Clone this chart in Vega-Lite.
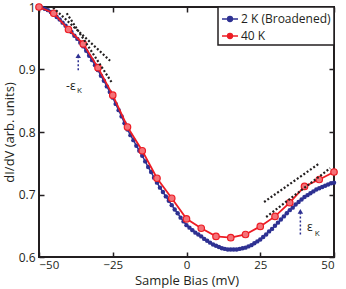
{
  "$schema": "https://vega.github.io/schema/vega-lite/v6.json",
  "width": 295,
  "height": 250,
  "autosize": "none",
  "padding": {"left": 39, "top": 7, "right": 12, "bottom": 32},
  "background": "white",
  "config": {
    "view": {"stroke": "#231f20", "strokeWidth": 2},
    "font": "Open Sans",
    "axis": {"domain": false, "grid": false, "tickColor": "#231f20", "tickWidth": 1.5, "labelColor": "#231f20", "titleColor": "#231f20", "labelFont": "Open Sans", "titleFont": "Open Sans", "labelFontSize": 12, "titleFontSize": 13, "titleFontWeight": "normal"}
  },
  "datasets": {
    "blue": [
      {"bias": -50, "didv": 1.000, "series": "2 K (Broadened)"},
      {"bias": -49, "didv": 0.999, "series": "2 K (Broadened)"},
      {"bias": -48, "didv": 0.997, "series": "2 K (Broadened)"},
      {"bias": -47, "didv": 0.995, "series": "2 K (Broadened)"},
      {"bias": -46, "didv": 0.992, "series": "2 K (Broadened)"},
      {"bias": -45, "didv": 0.988, "series": "2 K (Broadened)"},
      {"bias": -44, "didv": 0.984, "series": "2 K (Broadened)"},
      {"bias": -43, "didv": 0.980, "series": "2 K (Broadened)"},
      {"bias": -42, "didv": 0.975, "series": "2 K (Broadened)"},
      {"bias": -41, "didv": 0.970, "series": "2 K (Broadened)"},
      {"bias": -40, "didv": 0.965, "series": "2 K (Broadened)"},
      {"bias": -39, "didv": 0.960, "series": "2 K (Broadened)"},
      {"bias": -38, "didv": 0.954, "series": "2 K (Broadened)"},
      {"bias": -37, "didv": 0.949, "series": "2 K (Broadened)"},
      {"bias": -36, "didv": 0.943, "series": "2 K (Broadened)"},
      {"bias": -35, "didv": 0.937, "series": "2 K (Broadened)"},
      {"bias": -34, "didv": 0.930, "series": "2 K (Broadened)"},
      {"bias": -33, "didv": 0.922, "series": "2 K (Broadened)"},
      {"bias": -32, "didv": 0.915, "series": "2 K (Broadened)"},
      {"bias": -31, "didv": 0.907, "series": "2 K (Broadened)"},
      {"bias": -30, "didv": 0.899, "series": "2 K (Broadened)"},
      {"bias": -29, "didv": 0.890, "series": "2 K (Broadened)"},
      {"bias": -28, "didv": 0.882, "series": "2 K (Broadened)"},
      {"bias": -27, "didv": 0.873, "series": "2 K (Broadened)"},
      {"bias": -26, "didv": 0.864, "series": "2 K (Broadened)"},
      {"bias": -25, "didv": 0.855, "series": "2 K (Broadened)"},
      {"bias": -24, "didv": 0.845, "series": "2 K (Broadened)"},
      {"bias": -23, "didv": 0.835, "series": "2 K (Broadened)"},
      {"bias": -22, "didv": 0.825, "series": "2 K (Broadened)"},
      {"bias": -21, "didv": 0.814, "series": "2 K (Broadened)"},
      {"bias": -20, "didv": 0.804, "series": "2 K (Broadened)"},
      {"bias": -19, "didv": 0.795, "series": "2 K (Broadened)"},
      {"bias": -18, "didv": 0.787, "series": "2 K (Broadened)"},
      {"bias": -17, "didv": 0.778, "series": "2 K (Broadened)"},
      {"bias": -16, "didv": 0.770, "series": "2 K (Broadened)"},
      {"bias": -15, "didv": 0.762, "series": "2 K (Broadened)"},
      {"bias": -14, "didv": 0.753, "series": "2 K (Broadened)"},
      {"bias": -13, "didv": 0.744, "series": "2 K (Broadened)"},
      {"bias": -12, "didv": 0.736, "series": "2 K (Broadened)"},
      {"bias": -11, "didv": 0.727, "series": "2 K (Broadened)"},
      {"bias": -10, "didv": 0.719, "series": "2 K (Broadened)"},
      {"bias": -9, "didv": 0.711, "series": "2 K (Broadened)"},
      {"bias": -8, "didv": 0.704, "series": "2 K (Broadened)"},
      {"bias": -7, "didv": 0.697, "series": "2 K (Broadened)"},
      {"bias": -6, "didv": 0.690, "series": "2 K (Broadened)"},
      {"bias": -5, "didv": 0.683, "series": "2 K (Broadened)"},
      {"bias": -4, "didv": 0.676, "series": "2 K (Broadened)"},
      {"bias": -3, "didv": 0.670, "series": "2 K (Broadened)"},
      {"bias": -2, "didv": 0.663, "series": "2 K (Broadened)"},
      {"bias": -1, "didv": 0.657, "series": "2 K (Broadened)"},
      {"bias": 0, "didv": 0.651, "series": "2 K (Broadened)"},
      {"bias": 1, "didv": 0.647, "series": "2 K (Broadened)"},
      {"bias": 2, "didv": 0.643, "series": "2 K (Broadened)"},
      {"bias": 3, "didv": 0.639, "series": "2 K (Broadened)"},
      {"bias": 4, "didv": 0.636, "series": "2 K (Broadened)"},
      {"bias": 5, "didv": 0.633, "series": "2 K (Broadened)"},
      {"bias": 6, "didv": 0.629, "series": "2 K (Broadened)"},
      {"bias": 7, "didv": 0.626, "series": "2 K (Broadened)"},
      {"bias": 8, "didv": 0.623, "series": "2 K (Broadened)"},
      {"bias": 9, "didv": 0.620, "series": "2 K (Broadened)"},
      {"bias": 10, "didv": 0.618, "series": "2 K (Broadened)"},
      {"bias": 11, "didv": 0.616, "series": "2 K (Broadened)"},
      {"bias": 12, "didv": 0.614, "series": "2 K (Broadened)"},
      {"bias": 13, "didv": 0.613, "series": "2 K (Broadened)"},
      {"bias": 14, "didv": 0.612, "series": "2 K (Broadened)"},
      {"bias": 15, "didv": 0.612, "series": "2 K (Broadened)"},
      {"bias": 16, "didv": 0.612, "series": "2 K (Broadened)"},
      {"bias": 17, "didv": 0.612, "series": "2 K (Broadened)"},
      {"bias": 18, "didv": 0.613, "series": "2 K (Broadened)"},
      {"bias": 19, "didv": 0.614, "series": "2 K (Broadened)"},
      {"bias": 20, "didv": 0.615, "series": "2 K (Broadened)"},
      {"bias": 21, "didv": 0.617, "series": "2 K (Broadened)"},
      {"bias": 22, "didv": 0.619, "series": "2 K (Broadened)"},
      {"bias": 23, "didv": 0.622, "series": "2 K (Broadened)"},
      {"bias": 24, "didv": 0.625, "series": "2 K (Broadened)"},
      {"bias": 25, "didv": 0.628, "series": "2 K (Broadened)"},
      {"bias": 26, "didv": 0.632, "series": "2 K (Broadened)"},
      {"bias": 27, "didv": 0.636, "series": "2 K (Broadened)"},
      {"bias": 28, "didv": 0.641, "series": "2 K (Broadened)"},
      {"bias": 29, "didv": 0.645, "series": "2 K (Broadened)"},
      {"bias": 30, "didv": 0.650, "series": "2 K (Broadened)"},
      {"bias": 31, "didv": 0.655, "series": "2 K (Broadened)"},
      {"bias": 32, "didv": 0.660, "series": "2 K (Broadened)"},
      {"bias": 33, "didv": 0.665, "series": "2 K (Broadened)"},
      {"bias": 34, "didv": 0.670, "series": "2 K (Broadened)"},
      {"bias": 35, "didv": 0.675, "series": "2 K (Broadened)"},
      {"bias": 36, "didv": 0.679, "series": "2 K (Broadened)"},
      {"bias": 37, "didv": 0.684, "series": "2 K (Broadened)"},
      {"bias": 38, "didv": 0.688, "series": "2 K (Broadened)"},
      {"bias": 39, "didv": 0.692, "series": "2 K (Broadened)"},
      {"bias": 40, "didv": 0.696, "series": "2 K (Broadened)"},
      {"bias": 41, "didv": 0.699, "series": "2 K (Broadened)"},
      {"bias": 42, "didv": 0.702, "series": "2 K (Broadened)"},
      {"bias": 43, "didv": 0.705, "series": "2 K (Broadened)"},
      {"bias": 44, "didv": 0.708, "series": "2 K (Broadened)"},
      {"bias": 45, "didv": 0.710, "series": "2 K (Broadened)"},
      {"bias": 46, "didv": 0.712, "series": "2 K (Broadened)"},
      {"bias": 47, "didv": 0.714, "series": "2 K (Broadened)"},
      {"bias": 48, "didv": 0.716, "series": "2 K (Broadened)"},
      {"bias": 49, "didv": 0.718, "series": "2 K (Broadened)"},
      {"bias": 50, "didv": 0.719, "series": "2 K (Broadened)"}
    ],
    "red": [
      {"bias": -50, "didv": 1.000, "series": "40 K"},
      {"bias": -45, "didv": 0.990, "series": "40 K"},
      {"bias": -40, "didv": 0.964, "series": "40 K"},
      {"bias": -35, "didv": 0.941, "series": "40 K"},
      {"bias": -30, "didv": 0.903, "series": "40 K"},
      {"bias": -25, "didv": 0.859, "series": "40 K"},
      {"bias": -20, "didv": 0.808, "series": "40 K"},
      {"bias": -15, "didv": 0.770, "series": "40 K"},
      {"bias": -10, "didv": 0.726, "series": "40 K"},
      {"bias": -5, "didv": 0.694, "series": "40 K"},
      {"bias": 0, "didv": 0.661, "series": "40 K"},
      {"bias": 5, "didv": 0.646, "series": "40 K"},
      {"bias": 10, "didv": 0.633, "series": "40 K"},
      {"bias": 15, "didv": 0.631, "series": "40 K"},
      {"bias": 20, "didv": 0.636, "series": "40 K"},
      {"bias": 25, "didv": 0.649, "series": "40 K"},
      {"bias": 30, "didv": 0.665, "series": "40 K"},
      {"bias": 35, "didv": 0.687, "series": "40 K"},
      {"bias": 40, "didv": 0.713, "series": "40 K"},
      {"bias": 45, "didv": 0.724, "series": "40 K"},
      {"bias": 50, "didv": 0.736, "series": "40 K"}
    ],
    "tangents": [
      {"line": "L1", "bias": -45.2, "didv": 0.999},
      {"line": "L1", "bias": -25.9, "didv": 0.914},
      {"line": "L2", "bias": -40.6, "didv": 0.990},
      {"line": "L2", "bias": -25.3, "didv": 0.879},
      {"line": "R1", "bias": 26.3, "didv": 0.688},
      {"line": "R1", "bias": 44.8, "didv": 0.749},
      {"line": "R2", "bias": 27.0, "didv": 0.664},
      {"line": "R2", "bias": 48.7, "didv": 0.742}
    ],
    "arrows": [
      {"bias": -36.7, "tail": 0.899, "tip": 0.922},
      {"bias": 38.6, "tail": 0.636, "tip": 0.673}
    ],
    "eps": [
      {"bias": -39.2, "didv": 0.873, "label": "-ε"},
      {"bias": 41.8, "didv": 0.648, "label": "ε"}
    ],
    "sub": [
      {"bias": -36.3, "didv": 0.865, "label": "K"},
      {"bias": 44.3, "didv": 0.637, "label": "K"}
    ]
  },
  "resolve": {"axis": {"x": "independent", "y": "independent"}},
  "layer": [
    {
      "data": {"name": "blue"},
      "mark": {"type": "line", "strokeWidth": 1.5},
      "encoding": {
        "x": {"field": "bias", "type": "quantitative", "scale": {"domain": [-50, 50], "nice": false, "zero": false},
          "axis": {"orient": "bottom", "values": [-50, -25, 0, 25, 50], "offset": -5, "tickSize": 5, "labelPadding": 2, "labelFontSize": 11.5, "title": "Sample Bias (mV)", "titlePadding": 4}},
        "y": {"field": "didv", "type": "quantitative", "scale": {"domain": [0.6, 1.0], "nice": false, "zero": false},
          "axis": {"orient": "left", "values": [0.6, 0.7, 0.8, 0.9, 1.0], "format": ".1~f", "offset": -5, "tickSize": 5, "labelPadding": 4, "title": "dI/dV (arb. units)", "titlePadding": 2}},
        "color": {"field": "series", "type": "nominal",
          "scale": {"domain": ["2 K (Broadened)", "40 K"], "range": ["#2e3192", "#ed1c24"]},
          "legend": {"title": null, "orient": "top-right", "offset": 0, "padding": 3, "rowPadding": 2, "labelFontSize": 12, "labelFont": "Open Sans", "labelColor": "#231f20", "labelOffset": 2,
            "strokeColor": "#231f20", "fillColor": "white",
            "symbolType": "M-1,0L1,0M0.3,0A0.3,0.3,0,1,1,-0.3,0A0.3,0.3,0,1,1,0.3,0Z", "symbolSize": 256, "symbolStrokeWidth": 1.5,
            "encode": {
              "legend": {"update": {"strokeWidth": {"value": 1.5}}},
              "symbols": {"update": {"fill": {"scale": "color", "field": "value"}, "stroke": {"scale": "color", "field": "value"}, "fillOpacity": {"value": 1}}}}}}
      }
    },
    {
      "data": {"name": "blue"},
      "mark": {"type": "point", "filled": true, "size": 20, "color": "#2e3192", "opacity": 1},
      "encoding": {
        "x": {"field": "bias", "type": "quantitative", "axis": null},
        "y": {"field": "didv", "type": "quantitative", "axis": null}
      }
    },
    {
      "data": {"name": "red"},
      "mark": {"type": "line", "strokeWidth": 1.8},
      "encoding": {
        "x": {"field": "bias", "type": "quantitative", "axis": null},
        "y": {"field": "didv", "type": "quantitative", "axis": null},
        "color": {"field": "series", "type": "nominal"}
      }
    },
    {
      "data": {"name": "red"},
      "mark": {"type": "point", "filled": false, "size": 42, "stroke": "#ed1c24", "fill": "#f47278", "fillOpacity": 1, "strokeWidth": 1.2, "opacity": 1},
      "encoding": {
        "x": {"field": "bias", "type": "quantitative", "axis": null},
        "y": {"field": "didv", "type": "quantitative", "axis": null}
      }
    },
    {
      "data": {"name": "tangents"},
      "mark": {"type": "line", "color": "#231f20", "strokeWidth": 2.2, "strokeDash": [2, 2]},
      "encoding": {
        "x": {"field": "bias", "type": "quantitative", "axis": null},
        "y": {"field": "didv", "type": "quantitative", "axis": null},
        "detail": {"field": "line", "type": "nominal"}
      }
    },
    {
      "data": {"name": "arrows"},
      "mark": {"type": "rule", "color": "#2e3192", "strokeWidth": 1.5, "strokeDash": [2, 2]},
      "encoding": {
        "x": {"field": "bias", "type": "quantitative", "axis": null},
        "y": {"field": "tail", "type": "quantitative", "axis": null},
        "y2": {"field": "tip"}
      }
    },
    {
      "data": {"name": "arrows"},
      "mark": {"type": "point", "shape": "triangle-up", "filled": true, "size": 30, "color": "#2e3192", "opacity": 1},
      "encoding": {
        "x": {"field": "bias", "type": "quantitative", "axis": null},
        "y": {"field": "tip", "type": "quantitative", "axis": null}
      }
    },
    {
      "data": {"name": "eps"},
      "mark": {"type": "text", "fontSize": 12, "font": "Open Sans", "color": "#231f20"},
      "encoding": {
        "x": {"field": "bias", "type": "quantitative", "axis": null},
        "y": {"field": "didv", "type": "quantitative", "axis": null},
        "text": {"field": "label"}
      }
    },
    {
      "data": {"name": "sub"},
      "mark": {"type": "text", "fontSize": 8, "font": "Open Sans", "color": "#231f20"},
      "encoding": {
        "x": {"field": "bias", "type": "quantitative", "axis": null},
        "y": {"field": "didv", "type": "quantitative", "axis": null},
        "text": {"field": "label"}
      }
    },
    {
      "data": {"name": "red"},
      "mark": {"type": "point", "opacity": 0},
      "encoding": {
        "x": {"field": "bias", "type": "quantitative",
          "axis": {"orient": "top", "values": [-50, -25, 0, 25, 50], "offset": -5, "tickSize": 5, "labels": false, "title": null}},
        "y": {"field": "didv", "type": "quantitative",
          "axis": {"orient": "right", "values": [0.6, 0.7, 0.8, 0.9, 1.0], "offset": -5, "tickSize": 5, "labels": false, "title": null}}
      }
    }
  ]
}
